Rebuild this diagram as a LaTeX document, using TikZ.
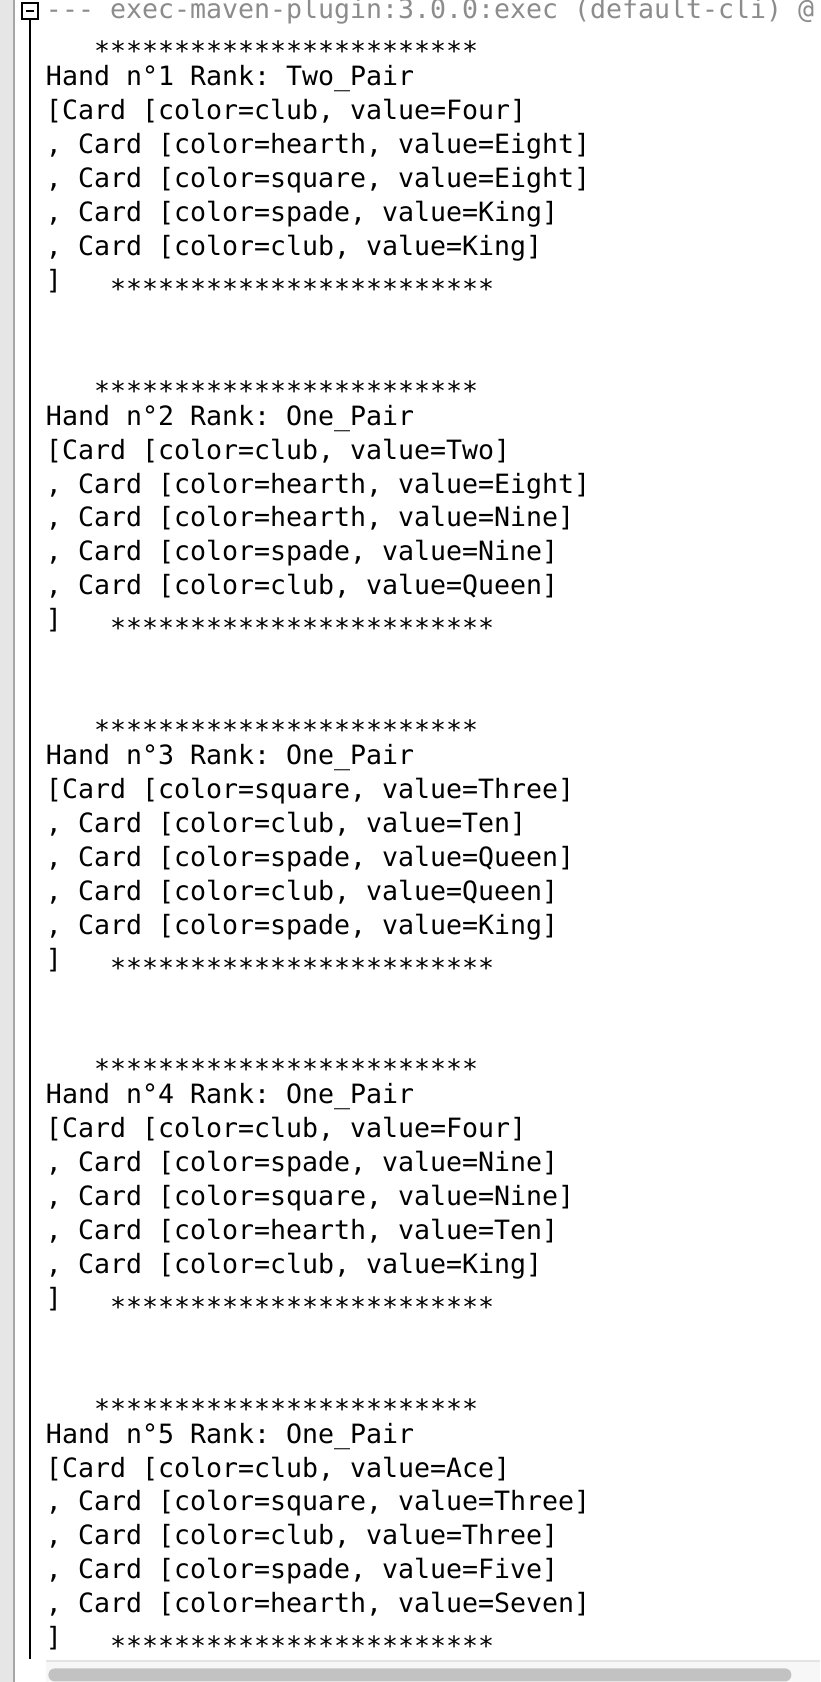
\documentclass[tikz,border=0pt]{standalone}
\usepackage{fontspec}
\newfontfamily\consolefont[Ligatures=TeXOff]{DejaVu Sans Mono}
\definecolor{stripgray}{HTML}{E6E6E6}
\definecolor{stripline}{HTML}{A6A6A6}
\definecolor{headgray}{HTML}{8C8C8C}
\definecolor{trackbg}{HTML}{F7F7F7}
\definecolor{trackline}{HTML}{E4E4E4}
\definecolor{thumbgray}{HTML}{C2C2C2}
\newcommand\sixstars{******}
\newcommand\starrow{\raisebox{-0.34em}{\sixstars\sixstars\sixstars\sixstars}}
\newcommand\putline[5][]{\node[ln,#1] (#2) at ({46+16.0*#4},{18+33.93*#3}) {#5};}
\frenchspacing
\begin{document}
\begin{tikzpicture}[x=0.5pt,y=-0.5pt,
  ln/.style={anchor=base west,inner sep=0pt,outer sep=0pt,text=black,
    font=\consolefont\fontsize{13.29pt}{16pt}\selectfont\frenchspacing},
  foldbox/.style={draw=black,fill=white,line width=0.75pt,minimum width=8pt,minimum height=8pt,inner sep=0pt,outer sep=0pt}]
\useasboundingbox (0,0) rectangle (820,1682);
\fill[white] (0,0) rectangle (820,1682);
% left gutter
\fill[stripgray] (0,0) rectangle (12.5,1682);
\fill[stripline] (12.5,0) rectangle (14.5,1682);
% scrollbar
\fill[trackbg] (46,1661) rectangle (820,1682);
\fill[trackline] (46,1660) rectangle (820,1662);
\node[fill=thumbgray,rounded corners=3.2pt,minimum width=371.5pt,minimum height=6.5pt,inner sep=0pt,anchor=north west] (thumb) at (48,1668) {};
% fold marker
\node[foldbox] (fold) at (30,11) {};
\draw[line width=1pt] ([xshift=-2pt]fold.center) -- ([xshift=2pt]fold.center);
\coordinate (foldend) at (30,1659);
\draw[line width=1pt] (fold.south) -- (foldend);
% header
\putline[text=headgray]{head}{0}{0}{--- exec-maven-plugin:3.0.0:exec (default-cli) @}
% block 1
\putline{sA1}{1}{3}{\starrow}
\putline{hA}{2}{0}{Hand n°1 Rank: Two\_Pair}
\putline{cA1}{3}{0}{[Card [color=club, value=Four]}
\putline{cA2}{4}{0}{, Card [color=hearth, value=Eight]}
\putline{cA3}{5}{0}{, Card [color=square, value=Eight]}
\putline{cA4}{6}{0}{, Card [color=spade, value=King]}
\putline{cA5}{7}{0}{, Card [color=club, value=King]}
\putline{bA}{8}{0}{]}
\putline{sA2}{8}{4}{\starrow}
% block 2
\putline{sB1}{11}{3}{\starrow}
\putline{hB}{12}{0}{Hand n°2 Rank: One\_Pair}
\putline{cB1}{13}{0}{[Card [color=club, value=Two]}
\putline{cB2}{14}{0}{, Card [color=hearth, value=Eight]}
\putline{cB3}{15}{0}{, Card [color=hearth, value=Nine]}
\putline{cB4}{16}{0}{, Card [color=spade, value=Nine]}
\putline{cB5}{17}{0}{, Card [color=club, value=Queen]}
\putline{bB}{18}{0}{]}
\putline{sB2}{18}{4}{\starrow}
% block 3
\putline{sC1}{21}{3}{\starrow}
\putline{hC}{22}{0}{Hand n°3 Rank: One\_Pair}
\putline{cC1}{23}{0}{[Card [color=square, value=Three]}
\putline{cC2}{24}{0}{, Card [color=club, value=Ten]}
\putline{cC3}{25}{0}{, Card [color=spade, value=Queen]}
\putline{cC4}{26}{0}{, Card [color=club, value=Queen]}
\putline{cC5}{27}{0}{, Card [color=spade, value=King]}
\putline{bC}{28}{0}{]}
\putline{sC2}{28}{4}{\starrow}
% block 4
\putline{sD1}{31}{3}{\starrow}
\putline{hD}{32}{0}{Hand n°4 Rank: One\_Pair}
\putline{cD1}{33}{0}{[Card [color=club, value=Four]}
\putline{cD2}{34}{0}{, Card [color=spade, value=Nine]}
\putline{cD3}{35}{0}{, Card [color=square, value=Nine]}
\putline{cD4}{36}{0}{, Card [color=hearth, value=Ten]}
\putline{cD5}{37}{0}{, Card [color=club, value=King]}
\putline{bD}{38}{0}{]}
\putline{sD2}{38}{4}{\starrow}
% block 5
\putline{sE1}{41}{3}{\starrow}
\putline{hE}{42}{0}{Hand n°5 Rank: One\_Pair}
\putline{cE1}{43}{0}{[Card [color=club, value=Ace]}
\putline{cE2}{44}{0}{, Card [color=square, value=Three]}
\putline{cE3}{45}{0}{, Card [color=club, value=Three]}
\putline{cE4}{46}{0}{, Card [color=spade, value=Five]}
\putline{cE5}{47}{0}{, Card [color=hearth, value=Seven]}
\putline{bE}{48}{0}{]}
\putline{sE2}{48}{4}{\starrow}
\end{tikzpicture}
\end{document}
